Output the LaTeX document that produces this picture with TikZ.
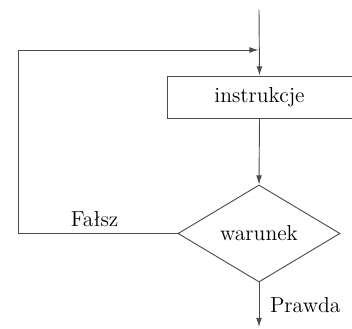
\documentclass[tikz,border=0pt]{standalone}
\usepackage{tikz}
\usetikzlibrary{arrows.meta, positioning, shapes.geometric}

\begin{document}
\begin{tikzpicture}[x=0.6pt, y=-0.6pt,
    every node/.style={font=\fontsize{13}{15}\selectfont, align=center},
    flow/.style={draw=black!70, line width=0.55pt},
    arr/.style={flow, -{Latex[length=5.5pt, width=3.5pt]}},
    instr/.style={draw=black!70, line width=0.55pt, rectangle, minimum width=111pt, minimum height=25.2pt, inner sep=0pt},
    cond/.style={draw=black!70, line width=0.55pt, diamond, minimum width=97.2pt, minimum height=58.2pt, inner sep=0pt}
]
\useasboundingbox (0,0) rectangle (352,329);
% Blocks
\node[instr] (body) at (259.5,97) {instrukcje};
\node[cond] (test) at (259,233.5) {warunek};
% Free ends
\coordinate (start) at (259,10);
\coordinate (stop) at (259,327);
\coordinate (back) at (18,233.5);
\coordinate (up) at (18,50);
\coordinate (join) at (258.5,50);
% Connectors
\draw[arr] (start) -- (body.north);
\draw[arr] (body.south) -- (test.north);
\draw[arr] (test.west) -- node[above=0.5pt, pos=0.52] {Fałsz} (back) -- (up) -- (join);
\draw[arr] (test.south) -- node[right=3pt, pos=0.5] {Prawda} (stop);
\end{tikzpicture}
\end{document}
